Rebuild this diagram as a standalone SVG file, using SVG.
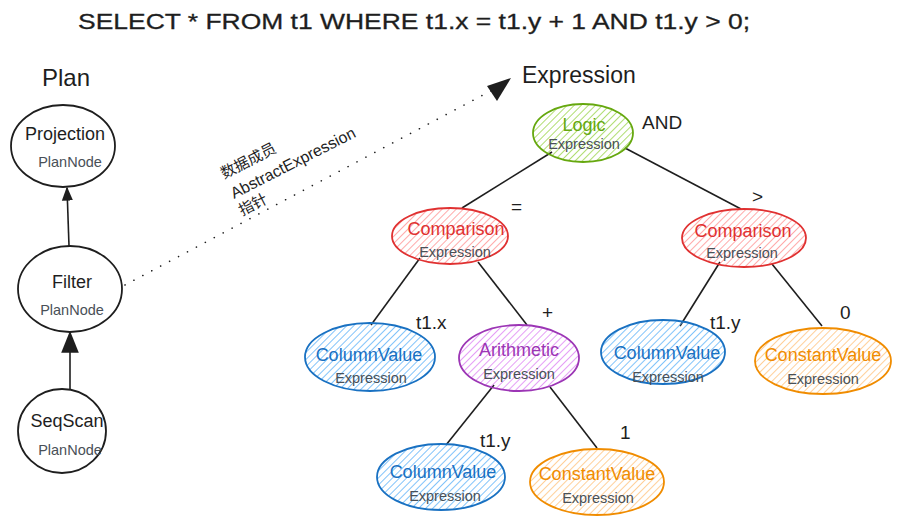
<svg xmlns="http://www.w3.org/2000/svg" width="897" height="517" viewBox="0 0 897 517">
<defs>
<style>
.t{font-family:"Liberation Sans","Noto Sans",sans-serif;fill:#1e1e1e}
.lbl{font-family:"Liberation Sans","Noto Sans",sans-serif;font-size:18px;text-anchor:middle}
.plbl{font-family:"Liberation Sans","Noto Sans",sans-serif;font-size:18px;text-anchor:middle;fill:#1e1e1e}
.sub{font-family:"Liberation Sans","Noto Sans",sans-serif;font-size:14.5px;text-anchor:middle;fill:#495057}
.edge{stroke:#1e1e1e;stroke-width:1.6;fill:none}
.plan{fill:#fff;stroke:#1e1e1e;stroke-width:1.8}
.val{font-family:"Liberation Sans","Noto Sans",sans-serif;font-size:19px;fill:#1e1e1e}
</style>
<pattern id="hG" width="5" height="5" patternUnits="userSpaceOnUse" patternTransform="rotate(45)"><line x1="0" y1="0" x2="0" y2="5" stroke="#82c91e" stroke-width="1.5" stroke-opacity="0.85"/></pattern>
<pattern id="hR" width="5" height="5" patternUnits="userSpaceOnUse" patternTransform="rotate(45)"><line x1="0" y1="0" x2="0" y2="5" stroke="#ff8787" stroke-width="1.5" stroke-opacity="0.95"/></pattern>
<pattern id="hB" width="5" height="5" patternUnits="userSpaceOnUse" patternTransform="rotate(45)"><line x1="0" y1="0" x2="0" y2="5" stroke="#4dabf7" stroke-width="1.5" stroke-opacity="0.95"/></pattern>
<pattern id="hP" width="5" height="5" patternUnits="userSpaceOnUse" patternTransform="rotate(45)"><line x1="0" y1="0" x2="0" y2="5" stroke="#da77f2" stroke-width="1.5" stroke-opacity="0.95"/></pattern>
<pattern id="hO" width="5" height="5" patternUnits="userSpaceOnUse" patternTransform="rotate(45)"><line x1="0" y1="0" x2="0" y2="5" stroke="#ffc078" stroke-width="1.5" stroke-opacity="1"/></pattern>
<marker id="ahS" viewBox="0 0 10 10" refX="9" refY="5" markerWidth="14" markerHeight="14" orient="auto" markerUnits="userSpaceOnUse"><path d="M0,1 L10,5 L0,9 z" fill="#1e1e1e"/></marker>
<marker id="ah2" viewBox="0 0 10 10" refX="9" refY="5" markerWidth="22" markerHeight="22" orient="auto" markerUnits="userSpaceOnUse"><path d="M0,1 L10,5 L0,9 z" fill="#1e1e1e"/></marker>
</defs>
<rect width="897" height="517" fill="#fff"/>

<text class="t" x="78" y="29" font-size="22" textLength="672" lengthAdjust="spacingAndGlyphs" stroke="#1e1e1e" stroke-width="0.3">SELECT * FROM t1 WHERE t1.x = t1.y + 1 AND t1.y &gt; 0;</text>
<text class="t" x="42" y="86" font-size="24">Plan</text>
<text class="t" x="522" y="83" font-size="23">Expression</text>

<g id="connectors">
<line class="edge" x1="69" y1="246" x2="67" y2="188" stroke-width="1.8" marker-end="url(#ahS)"/>
<line class="edge" x1="70" y1="390" x2="70" y2="333" stroke-width="2.4" marker-end="url(#ah2)"/>
<line class="edge" x1="125" y1="285" x2="500" y2="86" stroke-width="3.8" stroke-dasharray="0.1 10" stroke-linecap="round"/>
<path d="M487,86 L511,78 L497,101 z" fill="#1e1e1e"/>
<line class="edge" x1="552" y1="152" x2="462" y2="208"/>
<line class="edge" x1="625" y1="148" x2="741" y2="209"/>
<line class="edge" x1="420" y1="258" x2="371" y2="325"/>
<line class="edge" x1="478" y1="262" x2="527" y2="325"/>
<line class="edge" x1="720" y1="262" x2="680" y2="326"/>
<line class="edge" x1="772" y1="264" x2="822" y2="326"/>
<line class="edge" x1="494" y1="385" x2="446" y2="445"/>
<line class="edge" x1="550" y1="387" x2="597" y2="448"/>
</g>

<g id="edge-label" font-family="Liberation Sans,Noto Sans CJK SC,sans-serif" font-size="15" fill="#1e1e1e">
<text transform="translate(224,179) rotate(-27)" font-family="'Noto Sans CJK SC',sans-serif">数据成员</text>
<text transform="translate(234,199) rotate(-27)" font-size="16">AbstractExpression</text>
<text transform="translate(242,216) rotate(-27)" font-family="'Noto Sans CJK SC',sans-serif">指针</text>
</g>

<g id="projection">
<ellipse class="plan" cx="63" cy="146" rx="52" ry="41"/>
<text class="plbl" x="65" y="140">Projection</text>
<text class="sub" x="70" y="167">PlanNode</text>
</g>
<g id="filter">
<ellipse class="plan" cx="70" cy="289" rx="52" ry="43"/>
<text class="plbl" x="72" y="288">Filter</text>
<text class="sub" x="72" y="315">PlanNode</text>
</g>
<g id="seqscan">
<ellipse class="plan" cx="62" cy="431" rx="44" ry="42"/>
<text class="plbl" x="67" y="427" font-size="17">SeqScan</text>
<text class="sub" x="70" y="455">PlanNode</text>
</g>

<g id="logic">
<ellipse cx="583" cy="133" rx="50" ry="29" fill="url(#hG)" stroke="#66a80f" stroke-width="1.8"/>
<text class="lbl" x="584" y="131" fill="#66a80f">Logic</text>
<text class="sub" x="584" y="149" fill="#343a40">Expression</text>
<text class="val" x="642" y="129">AND</text>
</g>

<g id="comparison-eq">
<ellipse cx="450" cy="236" rx="58" ry="28" fill="url(#hR)" stroke="#e03131" stroke-width="1.8"/>
<text class="lbl" x="456" y="235" fill="#e03131">Comparison</text>
<text class="sub" x="455" y="257" fill="#343a40">Expression</text>
<text class="val" x="511" y="213">=</text>
</g>

<g id="comparison-gt">
<ellipse cx="744" cy="238" rx="62" ry="29" fill="url(#hR)" stroke="#e03131" stroke-width="1.8"/>
<text class="lbl" x="743" y="237" fill="#e03131">Comparison</text>
<text class="sub" x="742" y="258" fill="#343a40">Expression</text>
<text class="val" x="752" y="203">&gt;</text>
</g>

<g id="columnvalue-x">
<ellipse cx="370" cy="357" rx="65" ry="34" fill="url(#hB)" stroke="#1971c2" stroke-width="1.8"/>
<text class="lbl" x="369" y="361" fill="#1971c2">ColumnValue</text>
<text class="sub" x="371" y="383" fill="#343a40">Expression</text>
<text class="val" x="416" y="329">t1.x</text>
</g>

<g id="arithmetic">
<ellipse cx="519" cy="358" rx="60" ry="33" fill="url(#hP)" stroke="#9c36b5" stroke-width="1.8"/>
<text class="lbl" x="519" y="356" fill="#9c36b5">Arithmetic</text>
<text class="sub" x="519" y="379" fill="#343a40">Expression</text>
<text class="val" x="542" y="319">+</text>
</g>

<g id="columnvalue-y1">
<ellipse cx="663" cy="352" rx="62" ry="32" fill="url(#hB)" stroke="#1971c2" stroke-width="1.8"/>
<text class="lbl" x="667" y="359" fill="#1971c2">ColumnValue</text>
<text class="sub" x="668" y="382" fill="#343a40">Expression</text>
<text class="val" x="710" y="329">t1.y</text>
</g>

<g id="constant-0">
<ellipse cx="823" cy="361" rx="68" ry="33" fill="url(#hO)" stroke="#f08c00" stroke-width="1.8"/>
<text class="lbl" x="823" y="361" fill="#f08c00" font-size="16.5">ConstantValue</text>
<text class="sub" x="823" y="384" fill="#343a40">Expression</text>
<text class="val" x="840" y="319">0</text>
</g>

<g id="columnvalue-y2">
<ellipse cx="441" cy="477" rx="64" ry="33" fill="url(#hB)" stroke="#1971c2" stroke-width="1.8"/>
<text class="lbl" x="443" y="478" fill="#1971c2">ColumnValue</text>
<text class="sub" x="445" y="501" fill="#343a40">Expression</text>
<text class="val" x="480" y="447">t1.y</text>
</g>

<g id="constant-1">
<ellipse cx="597" cy="482" rx="67" ry="33" fill="url(#hO)" stroke="#f08c00" stroke-width="1.8"/>
<text class="lbl" x="597" y="480" fill="#f08c00" font-size="16.5">ConstantValue</text>
<text class="sub" x="598" y="503" fill="#343a40">Expression</text>
<text class="val" x="620" y="439">1</text>
</g>
</svg>
